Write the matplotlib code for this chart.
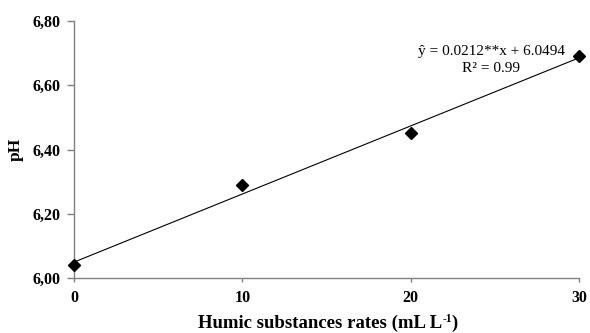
import matplotlib
matplotlib.use("Agg")
import matplotlib.pyplot as plt
import numpy as np

rates = [0, 10, 20, 30]
ph = [6.04, 6.29, 6.45, 6.69]
slope = 0.0212
intercept = 6.0494
yticks = [6.00, 6.20, 6.40, 6.60, 6.80]
xticks = [0, 10, 20, 30]

plt.rcParams['font.family'] = ['Liberation Serif', 'DejaVu Serif']

fig = plt.figure(figsize=(5.9, 3.33), dpi=100)
ax = fig.add_axes([0.1254, 0.1652, 0.856, 0.7717])

xl = np.array([rates[0], rates[-1]])
ax.plot(xl, intercept + slope * xl, color='black', lw=0.8, zorder=2, clip_on=False)
ax.plot(rates, ph, linestyle='none', marker='D', color='black', markersize=6.5, zorder=3, clip_on=False)

ax.set_xlim(0, 30)
ax.set_ylim(6.0, 6.8)
ax.set_xticks(xticks)
ax.set_yticks(yticks)
ax.set_yticklabels([f"{v:.2f}".replace('.', ',') for v in yticks])
ax.set_xticklabels([str(v) for v in xticks])
for s in ['top', 'right']:
    ax.spines[s].set_visible(False)
for s in ['left', 'bottom']:
    ax.spines[s].set_color('#808080')
    ax.spines[s].set_linewidth(1.0)
ax.tick_params(axis='both', colors='#808080', labelcolor='black', width=1.0, labelsize=11.5)
ax.tick_params(axis='y', length=5, pad=5)
ax.tick_params(axis='x', length=3, pad=6)
for lbl in ax.get_xticklabels() + ax.get_yticklabels():
    lbl.set_fontweight('bold')

ax.set_ylabel('pH', fontsize=12.5, fontweight='bold')
ax.yaxis.set_label_coords(-0.1, 0.5)

# x label built from pieces so the superscript uses a plain hyphen
fig.canvas.draw()
r = fig.canvas.get_renderer()
t1 = fig.text(0, 0, 'Humic substances rates (mL L', fontsize=13.5, fontweight='bold', va='baseline')
t2 = fig.text(0, 0, '-1', fontsize=8.5, fontweight='bold', va='baseline')
t3 = fig.text(0, 0, ')', fontsize=13.5, fontweight='bold', va='baseline')
w1 = t1.get_window_extent(r).width
w2 = t2.get_window_extent(r).width
w3 = t3.get_window_extent(r).width
W = fig.bbox.width
H = fig.bbox.height
total = w1 + w2 + w3
cx = 328
base = 333 - 328
x0 = cx - total / 2
t1.set_position((x0 / W, base / H))
t2.set_position(((x0 + w1) / W, (base + 6) / H))
t3.set_position(((x0 + w1 + w2) / W, base / H))

fig.text(491 / W, (333 - 55) / H, 'ŷ = 0.0212**x + 6.0494', ha='center', va='baseline', fontsize=11)
fig.text(491 / W, (333 - 72) / H, 'R² = 0.99', ha='center', va='baseline', fontsize=11)

fig.savefig('out.png', dpi=100)
